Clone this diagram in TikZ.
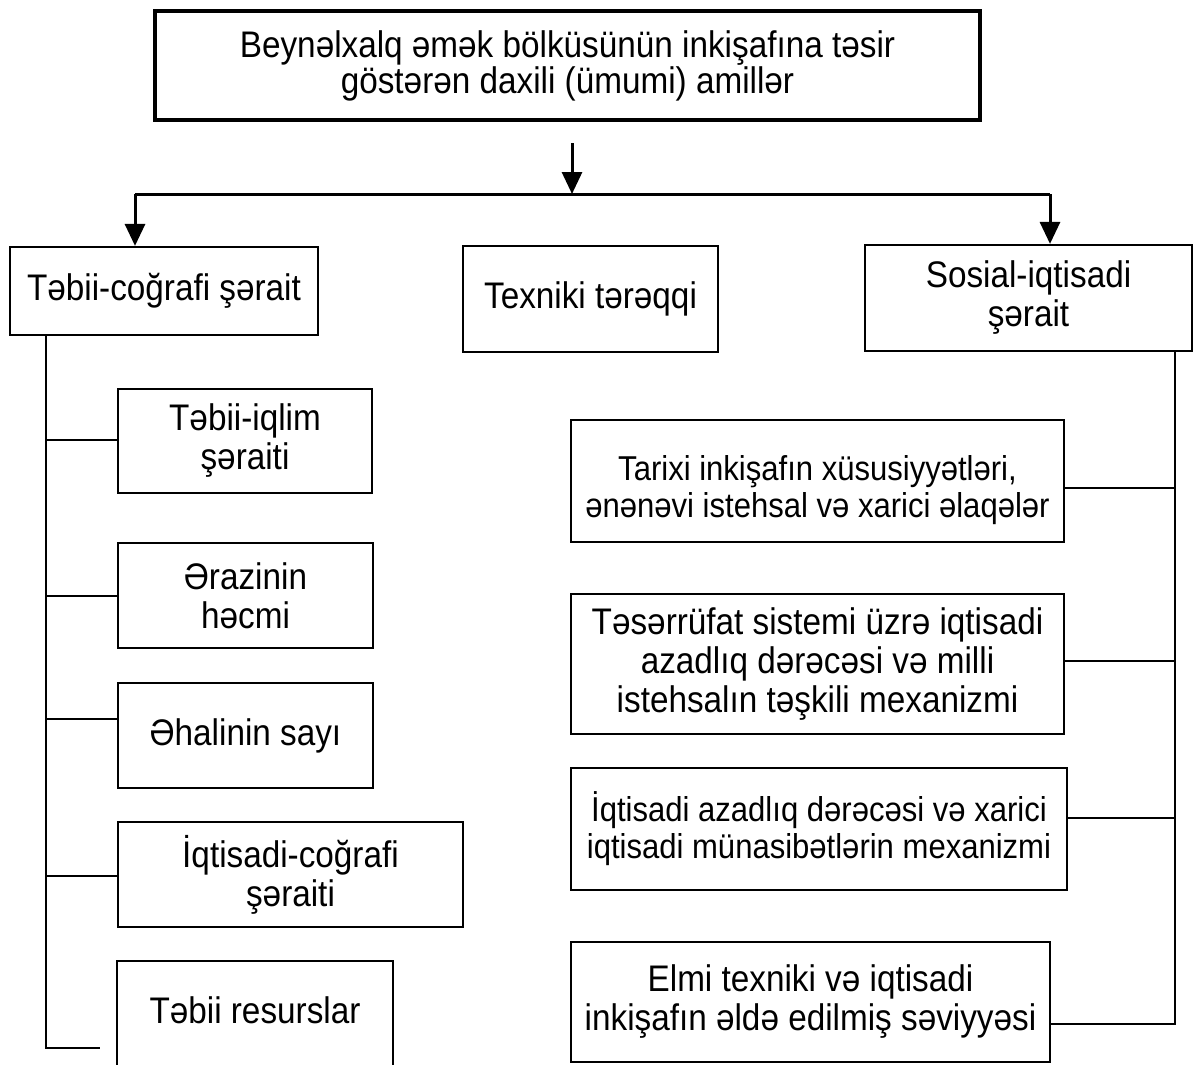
\documentclass[tikz,border=0pt]{standalone}
\usepackage{fontspec}
\setmainfont[FakeStretch=0.9]{Liberation Sans}
\usetikzlibrary{arrows.meta,calc}
\tikzset{
  txt/.style={inner sep=0pt, align=center, font=\fontsize{37}{39}\selectfont},
  small/.style={font=\fontsize{34.5}{37}\selectfont},
  box/.style={txt, draw, line width=2.2pt, rectangle},
  topbox/.style={box, line width=4.5pt, font=\fontsize{37}{36}\selectfont},
  link/.style={line width=2.4pt},
  feed/.style={line width=3pt, -{Triangle[length=22pt,width=20pt]}},
}
\begin{document}
\begin{tikzpicture}[x=1pt,y=-1pt]
\useasboundingbox[fill=white] (0,0) rectangle (1197,1065);

% top box
\node[topbox, minimum width=825pt, minimum height=109pt] (T) at (567.5,65.5)
  {Beynəlxalq əmək bölküsünün inkişafına təsir\\göstərən daxili (ümumi) amillər};

% level 1
\node[box, minimum width=308pt, minimum height=88pt] (B1) at (164,291) {Təbii-coğrafi şərait};
\node[box, minimum width=255pt, minimum height=106pt] (B2) at (590.5,299) {Texniki tərəqqi};
\node[box, minimum width=327pt, minimum height=106pt] (B3) at (1028.5,298) {Sosial-iqtisadi\\şərait};

% left column
\node[box, minimum width=254pt, minimum height=104pt] (L1) at (245,441) {Təbii-iqlim\\şəraiti};
\node[box, minimum width=255pt, minimum height=105pt] (L2) at (245.5,595.5) {Ərazinin\\həcmi};
\node[box, minimum width=255pt, minimum height=105pt] (L3) at (245.5,735.5) {Əhalinin sayı};
\node[box, minimum width=345pt, minimum height=105pt] (L4) at (290.5,874.5) {İqtisadi-coğrafi\\şəraiti};
\node[box, draw=none, minimum width=274pt, minimum height=96pt] (L5) at (255,1010) {Təbii resurslar};
\draw[line width=2.2pt] ([yshift=-12pt]L5.south west) -- (L5.north west) -- (L5.north east) -- ([yshift=-12pt]L5.south east);

% right column
\node[box, minimum width=493pt, minimum height=122pt] (R1) at (817.5,481) {};
\node[txt, small] (R1t) at ($(R1.center)+(0,9)$)
  {Tarixi inkişafın xüsusiyyətləri,\\ənənəvi istehsal və xarici əlaqələr};
\node[box, minimum width=493pt, minimum height=140pt] (R2) at (817.5,664)
  {Təsərrüfat sistemi üzrə iqtisadi\\azadlıq dərəcəsi və milli\\istehsalın təşkili mexanizmi};
\node[box, small, minimum width=496pt, minimum height=122pt] (R3) at (819,829)
  {İqtisadi azadlıq dərəcəsi və xarici\\iqtisadi münasibətlərin mexanizmi};
\node[box, minimum width=479pt, minimum height=120pt] (R4) at (810.5,1002)
  {Elmi texniki və iqtisadi\\inkişafın əldə edilmiş səviyyəsi};

% distribution arrows
\coordinate (a0) at (572,143);
\coordinate (hub) at (572,194);
\coordinate (hl) at (135,194);
\coordinate (hr) at (1050,194);
\draw[feed] (a0) -- (hub);
\draw[line width=3pt] (hl) -- (hr);
\draw[feed] (hl) -- (hl |- B1.north);
\draw[feed] (hr) -- (hr |- B3.north);

% left spine
\coordinate (ls) at (46,1048);
\coordinate (lend) at (100,1048);
\draw[link] (B1.south -| ls) -- (ls) -- (lend);
\path ([yshift=-52pt]L1.north west) coordinate (c1);
\path ([yshift=-54pt]L2.north west) coordinate (c2);
\path ([yshift=-37pt]L3.north west) coordinate (c3);
\path ([yshift=-55pt]L4.north west) coordinate (c4);
\foreach \c in {c1,c2,c3,c4} \draw[link] (\c) -- (\c -| ls);

% right spine
\coordinate (rs) at (1175,1025);
\draw[link] (B3.south -| rs) -- (rs);
\path ([yshift=-69pt]R1.north east) coordinate (d1);
\path ([yshift=-68pt]R2.north east) coordinate (d2);
\path ([yshift=-51pt]R3.north east) coordinate (d3);
\path ([yshift=-83pt]R4.north east) coordinate (d4);
\foreach \c in {d1,d2,d3,d4} \draw[link] (\c) -- (\c -| rs);
\end{tikzpicture}
\end{document}
